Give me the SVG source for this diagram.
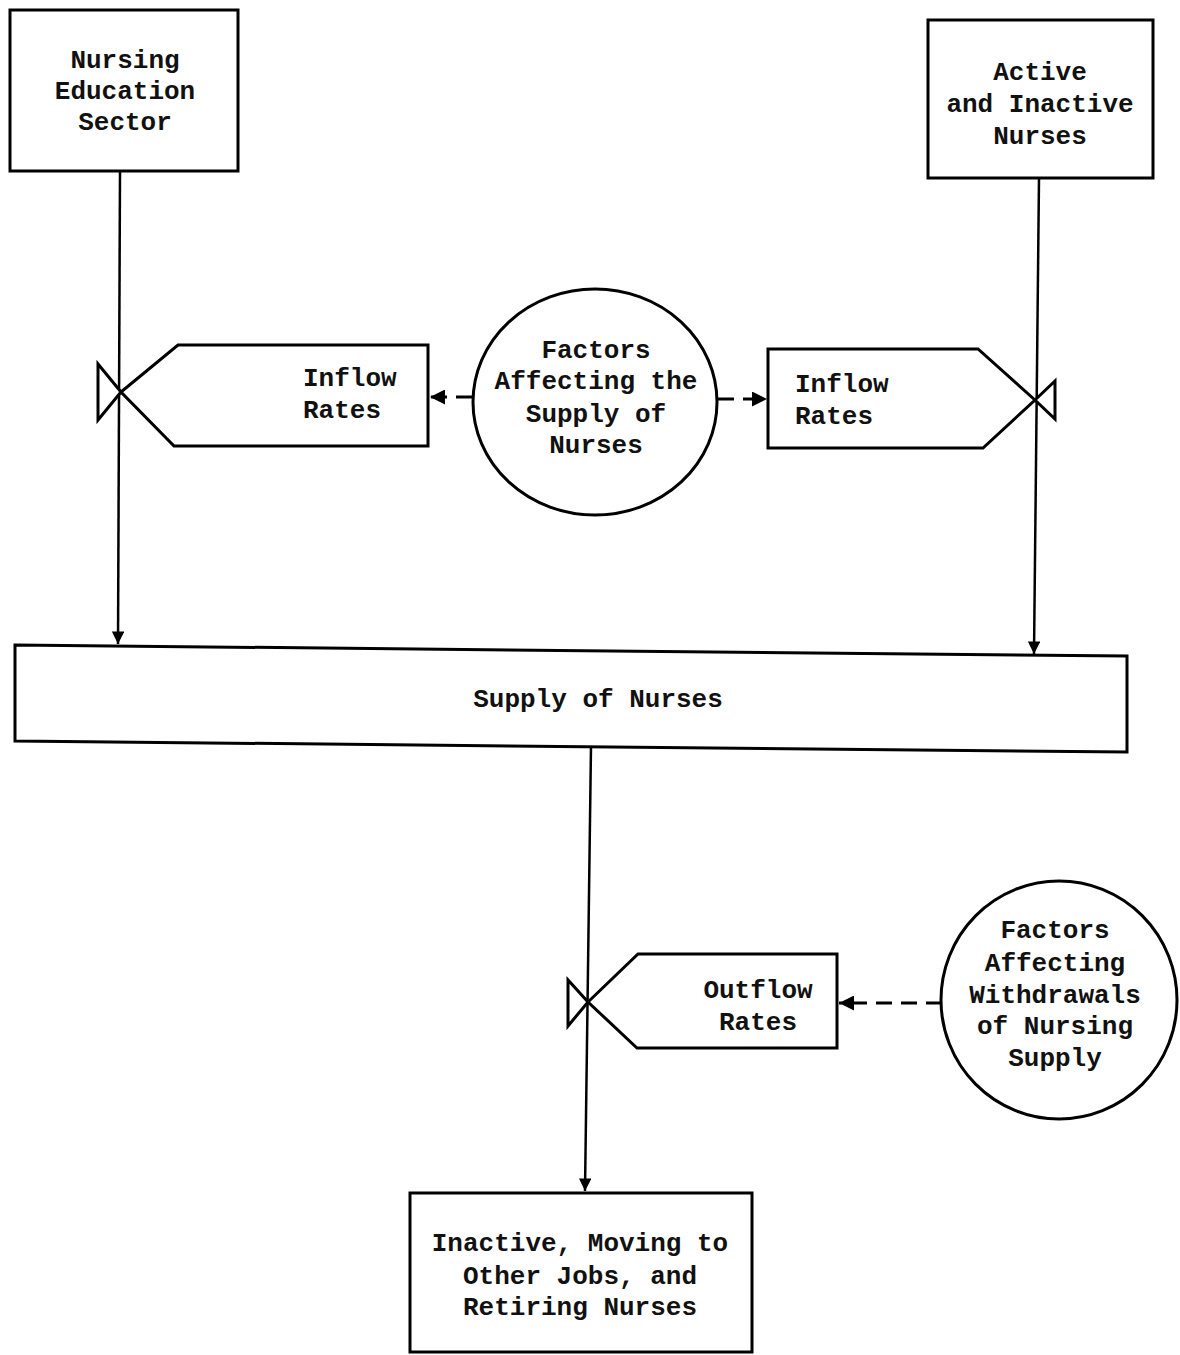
<svg xmlns="http://www.w3.org/2000/svg" width="1180" height="1355" viewBox="0 0 1180 1355">
<style>
.n{fill:#fff;stroke:#000;stroke-width:3;stroke-linejoin:miter}
.t{font-family:"Liberation Mono","DejaVu Sans Mono",monospace;font-size:26px;font-weight:bold;fill:#111;text-anchor:middle}
.s{text-anchor:start}
.c{fill:none;stroke:#000;stroke-width:2.5}
.d{fill:none;stroke:#000;stroke-width:3;stroke-dasharray:16,9}
</style>
<defs>
<marker id="ah" viewBox="0 0 10 10" refX="10" refY="5" markerWidth="6" markerHeight="5" orient="auto" markerUnits="strokeWidth">
<path d="M0,0 L10,5 L0,10 z" fill="#000"/>
</marker>
</defs>
<rect width="1180" height="1355" fill="#fff"/>
<g id="connectors">
<line class="c" x1="120" y1="171" x2="118" y2="644" marker-end="url(#ah)"/>
<line class="c" x1="1039" y1="178" x2="1034" y2="654" marker-end="url(#ah)"/>
<line class="c" x1="591" y1="746" x2="585" y2="1191" marker-end="url(#ah)"/>
<line class="d" x1="472" y1="397" x2="430" y2="397" marker-end="url(#ah)"/>
<line class="d" x1="718" y1="399" x2="767" y2="399" marker-end="url(#ah)"/>
<line class="d" x1="942" y1="1003" x2="839" y2="1003" marker-end="url(#ah)"/>
</g>
<g id="nursing-education-sector">
<rect class="n" x="10" y="10" width="228" height="161"/>
<text class="t" x="125" y="68">Nursing</text>
<text class="t" x="125" y="99">Education</text>
<text class="t" x="125" y="130">Sector</text>
</g>
<g id="active-inactive-nurses">
<rect class="n" x="928" y="20" width="225" height="158"/>
<text class="t" x="1040" y="80">Active</text>
<text class="t" x="1040" y="112">and Inactive</text>
<text class="t" x="1040" y="144">Nurses</text>
</g>
<g id="inflow-rates-left">
<path class="n" d="M121,392 L178,345 L428,345 L428,446 L174,446 Z"/>
<path class="n" d="M121,392 L98,364 L98,420 Z"/>
<text class="t s" x="303" y="386">Inflow</text>
<text class="t s" x="303" y="418">Rates</text>
</g>
<g id="factors-supply">
<ellipse class="n" cx="595" cy="402" rx="122" ry="113"/>
<text class="t" x="596" y="358">Factors</text>
<text class="t" x="596" y="389">Affecting the</text>
<text class="t" x="596" y="422">Supply of</text>
<text class="t" x="596" y="453">Nurses</text>
</g>
<g id="inflow-rates-right">
<path class="n" d="M1035,400 L978,349 L768,349 L768,448 L983,448 Z"/>
<path class="n" d="M1035,400 L1055,381 L1055,419 Z"/>
<text class="t s" x="795" y="392">Inflow</text>
<text class="t s" x="795" y="424">Rates</text>
</g>
<g id="supply-of-nurses">
<polygon class="n" points="15,645 1127,656 1127,752 15,741"/>
<text class="t" x="598" y="707">Supply of Nurses</text>
</g>
<g id="outflow-rates">
<path class="n" d="M588,1002 L638,954 L837,954 L837,1048 L637,1048 Z"/>
<path class="n" d="M588,1002 L568,980 L568,1026 Z"/>
<text class="t" x="758" y="998">Outflow</text>
<text class="t" x="758" y="1030">Rates</text>
</g>
<g id="factors-withdrawals">
<ellipse class="n" cx="1059" cy="1000" rx="118" ry="119"/>
<text class="t" x="1055" y="938">Factors</text>
<text class="t" x="1055" y="971">Affecting</text>
<text class="t" x="1055" y="1003">Withdrawals</text>
<text class="t" x="1055" y="1034">of Nursing</text>
<text class="t" x="1055" y="1066">Supply</text>
</g>
<g id="inactive-retiring">
<rect class="n" x="410" y="1193" width="342" height="159"/>
<text class="t" x="580" y="1251">Inactive, Moving to</text>
<text class="t" x="580" y="1284">Other Jobs, and</text>
<text class="t" x="580" y="1315">Retiring Nurses</text>
</g>
</svg>
